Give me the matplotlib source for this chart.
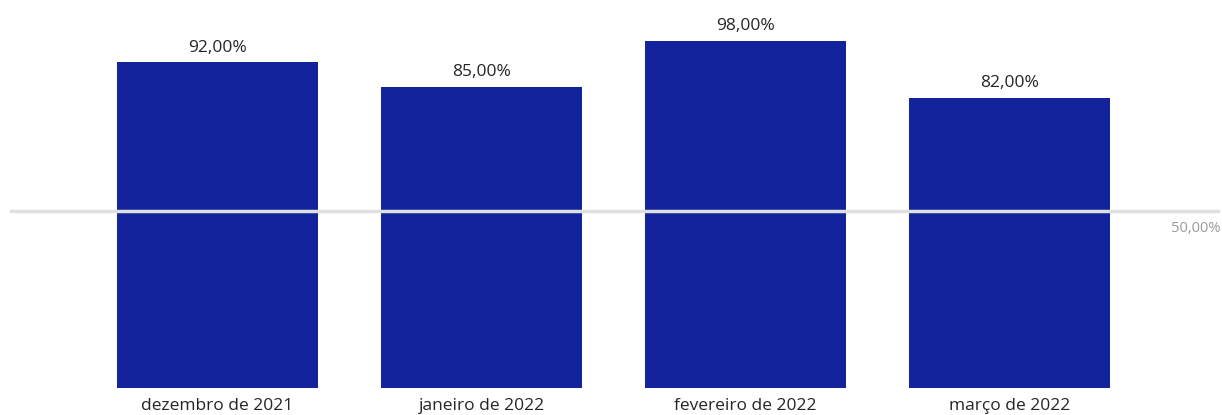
import matplotlib.pyplot as plt

plt.rcParams['font.family'] = ['Open Sans', 'DejaVu Sans']

months = ["dezembro de 2021", "janeiro de 2022", "fevereiro de 2022", "março de 2022"]
values = [92, 85, 98, 82]
target = 50

fig = plt.figure(figsize=(12.22, 4.15), dpi=100)
ax = fig.add_axes([10 / 1222, 27 / 415, 1210 / 1222, 388 / 415])

x = range(len(months))
ax.bar(x, values, width=0.76, color="#13239c", zorder=2)
for i, v in zip(x, values):
    ax.text(i, v + 1.9, f"{v:.2f}%".replace(".", ","), ha="center", va="bottom",
            fontsize=12.5, color="#252525")

ax.axhline(target, color="#e0e0e0", lw=2.5, zorder=3)
ax.text(1.0, target - 5, f"{target:.2f}%".replace(".", ","), transform=ax.get_yaxis_transform(),
        ha="right", va="center", fontsize=10.5, color="#9a9a9a")

ax.set_xlim(-0.786, 3.797)
ax.set_ylim(0, 109.6)
ax.set_xticks(list(x))
ax.set_xticklabels(months, fontsize=12.5, color="#252525")
ax.tick_params(axis="x", length=0, pad=7)
ax.set_yticks([])
for s in ax.spines.values():
    s.set_visible(False)

fig.savefig("out.png", dpi=100)
